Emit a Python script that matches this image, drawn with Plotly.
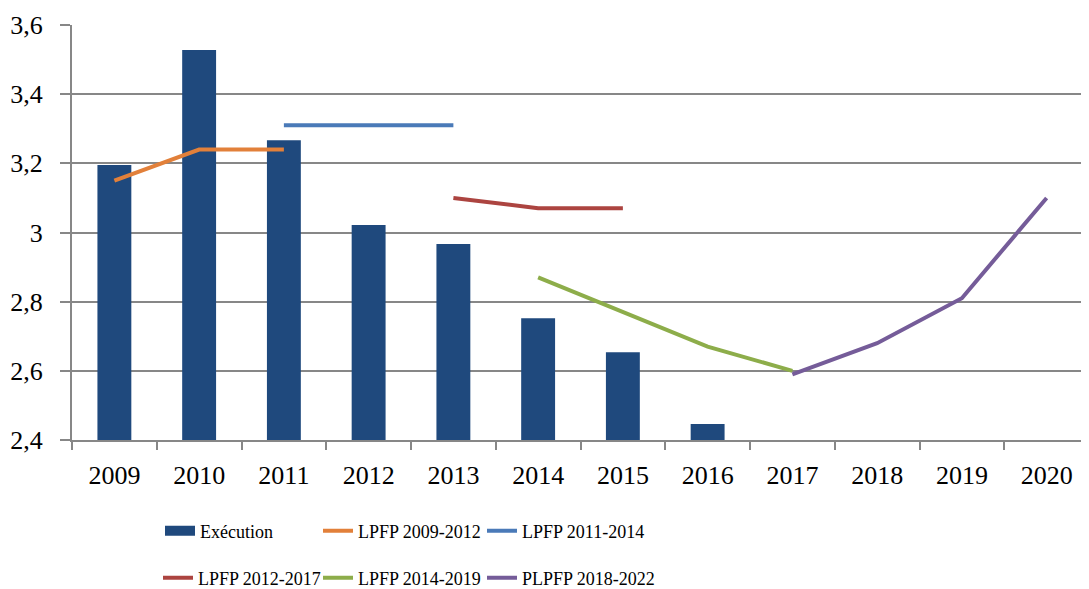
import plotly.graph_objects as go

years = ["2009", "2010", "2011", "2012", "2013", "2014", "2015", "2016", "2017", "2018", "2019", "2020"]

exec_years = ["2009", "2010", "2011", "2012", "2013", "2014", "2015", "2016"]
execution = [3.195, 3.528, 3.267, 3.022, 2.967, 2.752, 2.654, 2.446]

lpfp_0912_years = ["2009", "2010", "2011"]
lpfp_0912 = [3.15, 3.24, 3.24]

lpfp_1114_years = ["2011", "2012", "2013"]
lpfp_1114 = [3.31, 3.31, 3.31]

lpfp_1217_years = ["2013", "2014", "2015"]
lpfp_1217 = [3.10, 3.07, 3.07]

lpfp_1419_years = ["2014", "2015", "2016", "2017"]
lpfp_1419 = [2.87, 2.77, 2.67, 2.60]

plpfp_1822_years = ["2017", "2018", "2019", "2020"]
plpfp_1822 = [2.59, 2.68, 2.81, 3.10]

y_tickvals = [2.4, 2.6, 2.8, 3.0, 3.2, 3.4, 3.6]
y_ticktext = ["2,4", "2,6", "2,8", "3", "3,2", "3,4", "3,6"]

FONT = "Liberation Serif"
BAR_COLOR = "#1F497D"
fig = go.Figure()

fig.add_trace(go.Bar(x=exec_years, y=execution, name="Exécution",
                     marker=dict(color=BAR_COLOR, line=dict(width=0)),
                     legendgroup="exec", showlegend=False))
# legend entry for the bars (wide rectangle swatch like the reference)
fig.add_trace(go.Scatter(x=[None], y=[None], name="Exécution", mode="lines",
                         line=dict(color=BAR_COLOR, width=15),
                         legendgroup="exec", legend="legend"))

lines = [
    ("LPFP 2009-2012", lpfp_0912_years, lpfp_0912, "#E2803A", "legend2"),
    ("LPFP 2011-2014", lpfp_1114_years, lpfp_1114, "#4A7AB8", "legend3"),
    ("LPFP 2012-2017", lpfp_1217_years, lpfp_1217, "#AC4440", "legend4"),
    ("LPFP 2014-2019", lpfp_1419_years, lpfp_1419, "#8DAD4A", "legend5"),
    ("PLPFP 2018-2022", plpfp_1822_years, plpfp_1822, "#755C99", "legend6"),
]
for name, xs, ys, col, lg in lines:
    fig.add_trace(go.Scatter(x=xs, y=ys, name=name, mode="lines",
                             line=dict(color=col, width=4),
                             legend=lg))

legend_common = dict(orientation="h", xanchor="left", yanchor="middle",
                     font=dict(family=FONT, size=18, color="#000"),
                     itemwidth=30, bgcolor="rgba(0,0,0,0)")

# page body has an 8px margin: figure is 8px smaller than the window
PLOT_L, PLOT_W, PLOT_H, PLOT_B = 72, 1017, 415, 440


def lx(px):
    return (px - PLOT_L) / PLOT_W


def ly(py):
    return -(py - PLOT_B) / PLOT_H


row_py = [531, 578]

fig.update_layout(
    width=1081, height=581,
    margin=dict(l=64, r=0, t=17, b=149, autoexpand=False),
    paper_bgcolor="white", plot_bgcolor="white",
    separators=", ",
    font=dict(family=FONT, size=26, color="#000"),
    bargap=0.6,
    showlegend=True,
    legend=dict(x=lx(160), y=ly(row_py[0]), **legend_common),
    legend2=dict(x=lx(318), y=ly(row_py[0]), **legend_common),
    legend3=dict(x=lx(482), y=ly(row_py[0]), **legend_common),
    legend4=dict(x=lx(158), y=ly(row_py[1]), **legend_common),
    legend5=dict(x=lx(318), y=ly(row_py[1]), **legend_common),
    legend6=dict(x=lx(482), y=ly(row_py[1]), **legend_common),
    xaxis=dict(type="category", categoryorder="array", categoryarray=years,
               range=[-0.5, 11.5], automargin=False,
               showline=True, linecolor="#878787", linewidth=2,
               ticks="outside", tickson="boundaries", ticklen=8,
               tickcolor="#878787", tickwidth=2, ticklabelstandoff=11,
               showgrid=False, tickfont=dict(family=FONT, size=26, color="#000"),
               fixedrange=True),
    yaxis=dict(range=[2.4, 3.6], tickvals=y_tickvals, ticktext=y_ticktext,
               automargin=False,
               showline=True, linecolor="#878787", linewidth=2,
               ticks="outside", ticklen=10, tickcolor="#878787", tickwidth=2,
               ticklabelstandoff=12,
               showgrid=True, gridcolor="#878787", gridwidth=2,
               zeroline=False, tickfont=dict(family=FONT, size=26, color="#000"),
               fixedrange=True),
)

fig.write_html("out.html")
